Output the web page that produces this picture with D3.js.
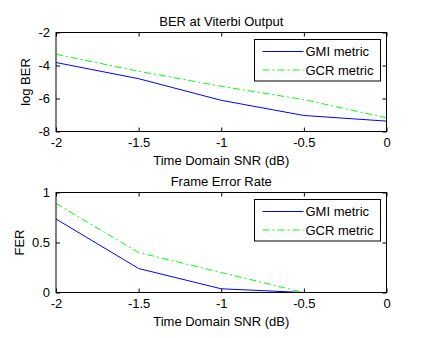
<!DOCTYPE html>
<html>
<head>
<meta charset="utf-8">
<script src="https://cdn.jsdelivr.net/npm/d3@7"></script>
<style>
  body { margin: 0; background: #fff; }
  text { font-family: Arial, "Liberation Sans", sans-serif; }
</style>
</head>
<body>
<div class="mainWrapper"></div>
<script>
// data
var snr = [-2, -1.5, -1, -0.5, 0];
var xTicks = [-2, -1.5, -1, -0.5, 0];

var berGmi = [-3.82, -4.8, -6.11, -7.03, -7.37];
var berGcr = [-3.32, -4.35, -5.26, -6.07, -7.17];
var berTicks = [-8, -6, -4, -2];

var ferGmi = [0.735, 0.24, 0.037, 0.0, 0.0];
var ferGcr = [0.89, 0.40, 0.20, 0.0, 0.0];
var ferTicks = [0, 0.5, 1];

var seriesNames = ["GMI metric", "GCR metric"];
var seriesColors = ["#0000ff", "#00ff00"];
var seriesDash = [null, "7,3,2,3"];

var svg = d3.select(".mainWrapper")
  .append("svg")
    .attr("width", 427)
    .attr("height", 338);

function drawPanel(opt) {
  var left = 56, right = 386.5;
  var width = right - left, height = opt.bottom - opt.top;

  var g = svg.append("g")
    .attr("transform", "translate(" + left + "," + opt.top + ")");

  var x = d3.scaleLinear().domain([-2, 0]).range([0, width]);
  var y = d3.scaleLinear().domain(opt.yDomain).range([height, 0]);

  var clipId = "clip" + opt.id;
  g.append("clipPath").attr("id", clipId)
    .append("rect").attr("width", width).attr("height", height);

  // lines
  var line = d3.line()
    .x(function(d) { return x(d[0]); })
    .y(function(d) { return y(d[1]); });

  opt.series.forEach(function(vals, i) {
    g.append("path")
      .datum(d3.zip(snr, vals))
      .attr("clip-path", "url(#" + clipId + ")")
      .attr("fill", "none")
      .attr("stroke", seriesColors[i])
      .attr("stroke-width", 1)
      .attr("stroke-dasharray", seriesDash[i])
      .attr("d", line);
  });

  // axes, ticks pointing inward
  var fmt = function(d) { return String(d); };
  var xAxis = g.append("g")
    .attr("transform", "translate(0," + height + ")")
    .call(d3.axisBottom(x).tickValues(xTicks).tickSize(-4).tickPadding(6).tickFormat(fmt));
  g.append("g")
    .call(d3.axisTop(x).tickValues(xTicks).tickSize(-4).tickFormat(""));
  g.append("g")
    .call(d3.axisLeft(y).tickValues(opt.yTicks).tickSize(-4).tickPadding(6).tickFormat(fmt));
  g.append("g")
    .attr("transform", "translate(" + width + ",0)")
    .call(d3.axisRight(y).tickValues(opt.yTicks).tickSize(-4).tickFormat(""));

  g.selectAll(".domain").remove();
  g.selectAll(".tick line").attr("stroke", "#000");
  g.selectAll(".tick text")
    .attr("fill", "#000")
    .style("font-size", "13px")
    .style("font-family", "Arial, 'Liberation Sans', sans-serif");

  g.append("rect")
    .attr("width", width)
    .attr("height", height)
    .attr("fill", "none")
    .attr("stroke", "#000")
    .attr("stroke-width", 1);

  // title and labels
  g.append("text")
    .attr("x", width / 2)
    .attr("y", -7)
    .attr("text-anchor", "middle")
    .style("font-size", "13px")
    .text(opt.title);

  g.append("text")
    .attr("x", width / 2)
    .attr("y", height + 33)
    .attr("text-anchor", "middle")
    .style("font-size", "13px")
    .text("Time Domain SNR (dB)");

  g.append("text")
    .attr("transform", "translate(" + opt.yLabelX + "," + (height / 2) + ") rotate(-90)")
    .attr("text-anchor", "middle")
    .style("font-size", "13px")
    .text(opt.yLabel);

  // legend
  var lg = svg.append("g")
    .attr("transform", "translate(254.5," + opt.legendTop + ")");
  lg.append("rect")
    .attr("width", 126)
    .attr("height", 41.5)
    .attr("fill", "#fff")
    .attr("stroke", "#000");
  seriesNames.forEach(function(name, i) {
    var ly = 12 + i * 18.5;
    lg.append("line")
      .attr("x1", 8).attr("x2", 49)
      .attr("y1", ly).attr("y2", ly)
      .attr("stroke", seriesColors[i])
      .attr("stroke-dasharray", seriesDash[i]);
    lg.append("text")
      .attr("x", 51)
      .attr("y", ly + 4.5)
      .style("font-size", "13px")
      .text(name);
  });
}

drawPanel({
  id: 1, top: 32.5, bottom: 131.5,
  yDomain: [-8, -2], yTicks: berTicks,
  series: [berGmi, berGcr],
  title: "BER at Viterbi Output",
  yLabel: "log BER", yLabelX: -26,
  legendTop: 39.5
});

drawPanel({
  id: 2, top: 192.5, bottom: 292.5,
  yDomain: [0, 1], yTicks: ferTicks,
  series: [ferGmi, ferGcr],
  title: "Frame Error Rate",
  yLabel: "FER", yLabelX: -32,
  legendTop: 199.5
});
</script>
</body>
</html>
